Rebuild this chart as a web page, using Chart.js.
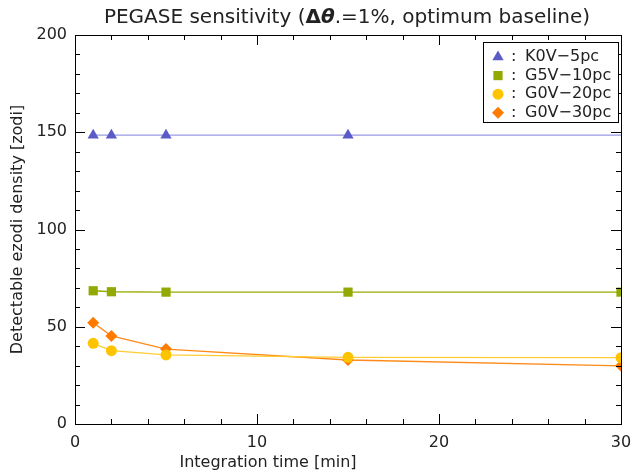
<!DOCTYPE html>
<html>
<head>
<meta charset="utf-8">
<script src="https://cdn.jsdelivr.net/npm/chart.js@4/dist/chart.umd.min.js"></script>
<style>
  html, body { margin: 0; padding: 0; background: #fff; }
  #wrap { width: 631px; height: 475px; position: relative; }
</style>
</head>
<body>
<div id="wrap"><canvas id="grafico"></canvas></div>
<script>
// integration time [min]
const tempos = [1, 2, 5, 15, 30];

const k0v5pc = [148.5, 148.5, 148.5, 148.5, 148.5];
const g5v10pc = [68.5, 68.0, 67.8, 67.8, 67.8];
const g0v20pc = [41.5, 37.7, 35.5, 34.3, 34.1];
const g0v30pc = [52.1, 45.3, 38.5, 32.9, 29.9];

const nomesSeries = ['K0V\u22125pc', 'G5V\u221210pc', 'G0V\u221220pc', 'G0V\u221230pc'];
const ticksY = [0, 50, 100, 150, 200];
const ticksX = [0, 10, 20, 30];

const fonte = '"DejaVu Sans", sans-serif';
const corTexto = '#222';

const pontos = (valores) => valores.map((v, i) => ({ x: tempos[i], y: v }));

// eixos com ticks para dentro (estilo IDL) e legenda em caixa
const moldura = {
    id: 'moldura',
    afterDraw(chart) {
        const ctx = chart.ctx;
        const a = chart.chartArea;
        const sx = chart.scales.x;
        const sy = chart.scales.y;
        ctx.save();
        ctx.strokeStyle = '#000';
        ctx.lineWidth = 1;
        ctx.strokeRect(Math.round(a.left) + 0.5, Math.round(a.top) + 0.5,
            Math.round(a.right - a.left), Math.round(a.bottom - a.top));

        ctx.beginPath();
        for (let v = 0; v <= 200; v += 10) {
            const y = Math.round(sy.getPixelForValue(v)) + 0.5;
            const len = v % 50 === 0 ? 10 : 5;
            ctx.moveTo(a.left, y); ctx.lineTo(a.left + len, y);
            ctx.moveTo(a.right, y); ctx.lineTo(a.right - len, y);
        }
        for (let v = 0; v <= 30; v += 2) {
            const x = Math.round(sx.getPixelForValue(v)) + 0.5;
            const len = v % 10 === 0 ? 10 : 5;
            ctx.moveTo(x, a.bottom); ctx.lineTo(x, a.bottom - len);
            ctx.moveTo(x, a.top); ctx.lineTo(x, a.top + len);
        }
        ctx.stroke();

        // titulo
        const partes = [
            { t: 'PEGASE sensitivity (', f: '20px ' + fonte },
            { t: '\u0394', f: 'bold 20px ' + fonte },
            { t: '\u03b8', f: 'italic bold 20px ' + fonte },
            { t: '.=1%, optimum baseline)', f: '20px ' + fonte }
        ];
        let total = 0;
        partes.forEach(p => { ctx.font = p.f; p.w = ctx.measureText(p.t).width; total += p.w; });
        let x0 = 347 - total / 2;
        ctx.fillStyle = corTexto;
        ctx.textBaseline = 'middle';
        ctx.textAlign = 'left';
        partes.forEach(p => { ctx.font = p.f; ctx.fillText(p.t, x0, 18); x0 += p.w; });

        // titulo do eixo x (deslocado para a esquerda como no original)
        ctx.font = '16px ' + fonte;
        ctx.textAlign = 'center';
        ctx.fillText('Integration time [min]', 268, 463);

        // legenda
        const bx = 483, by = 42, bw = 135, bh = 80;
        ctx.fillStyle = '#fff';
        ctx.fillRect(bx, by, bw, bh);
        ctx.strokeStyle = '#000';
        ctx.strokeRect(bx + 0.5, by + 0.5, bw, bh);
        ctx.textAlign = 'left';
        ctx.font = '16px ' + fonte;
        chart.data.datasets.forEach((ds, i) => {
            const y = 57 + i * 18.6;
            ctx.fillStyle = ds.pointBackgroundColor;
            Chart.helpers.drawPoint(ctx, { pointStyle: ds.pointStyle, radius: ds.legendRadius, borderWidth: 0 }, 498, y);
            ctx.fillStyle = corTexto;
            ctx.fillText(':', 511, y);
            ctx.fillText(ds.label, 525, y);
        });
        ctx.restore();
    }
};

const serie = (rotulo, valores, corLinha, corPonto, estilo, raio, raios) => ({
    label: rotulo,
    data: pontos(valores),
    borderColor: corLinha,
    borderWidth: 1.3,
    backgroundColor: corPonto,
    pointBackgroundColor: corPonto,
    pointBorderWidth: 0,
    pointBorderColor: corPonto,
    pointStyle: estilo,
    pointRadius: raios || raio,
    legendRadius: raio,
    tension: 0,
    clip: 0
});

new Chart(document.getElementById('grafico'), {
    type: 'line',
    data: {
        datasets: [
            serie(nomesSeries[0], k0v5pc, '#9a9ae4', '#5b5bc8', 'triangle', 6.5, [6.5, 6.5, 6.5, 6.5, 0]),
            serie(nomesSeries[1], g5v10pc, '#98ac00', '#93a800', 'rect', 6.5),
            serie(nomesSeries[2], g0v20pc, '#ffcc33', '#ffc400', 'circle', 5.5),
            serie(nomesSeries[3], g0v30pc, '#ff8a1a', '#ff7b00', 'rectRot', 6)
        ]
    },
    plugins: [moldura],
    options: {
        responsive: true,
        maintainAspectRatio: false,
        animation: false,
        layout: { padding: { top: 35, right: 10, left: 0, bottom: 0 } },
        plugins: {
            legend: { display: false },
            title: { display: false },
            tooltip: { enabled: false }
        },
        scales: {
            x: {
                type: 'linear',
                min: 0,
                max: 30,
                afterFit: (s) => { s.height = 51; s.paddingLeft = 0; s.paddingRight = 0; },
                afterBuildTicks: (s) => { s.ticks = ticksX.map(v => ({ value: v })); },
                grid: { display: false, drawTicks: false },
                border: { display: false },
                ticks: { color: corTexto, font: { family: fonte, size: 16 }, padding: 9, maxRotation: 0 },
                title: { display: false }
            },
            y: {
                type: 'linear',
                min: 0,
                max: 200,
                afterFit: (s) => { s.width = 75; s.paddingTop = 0; s.paddingBottom = 0; },
                afterBuildTicks: (s) => { s.ticks = ticksY.map(v => ({ value: v })); },
                grid: { display: false, drawTicks: false },
                border: { display: false },
                ticks: { color: corTexto, font: { family: fonte, size: 16 }, padding: 8 },
                title: { display: true, text: 'Detectable ezodi density [zodi]', color: corTexto, font: { family: fonte, size: 16 }, padding: { top: 8, bottom: 0 } }
            }
        }
    }
});
</script>
</body>
</html>
